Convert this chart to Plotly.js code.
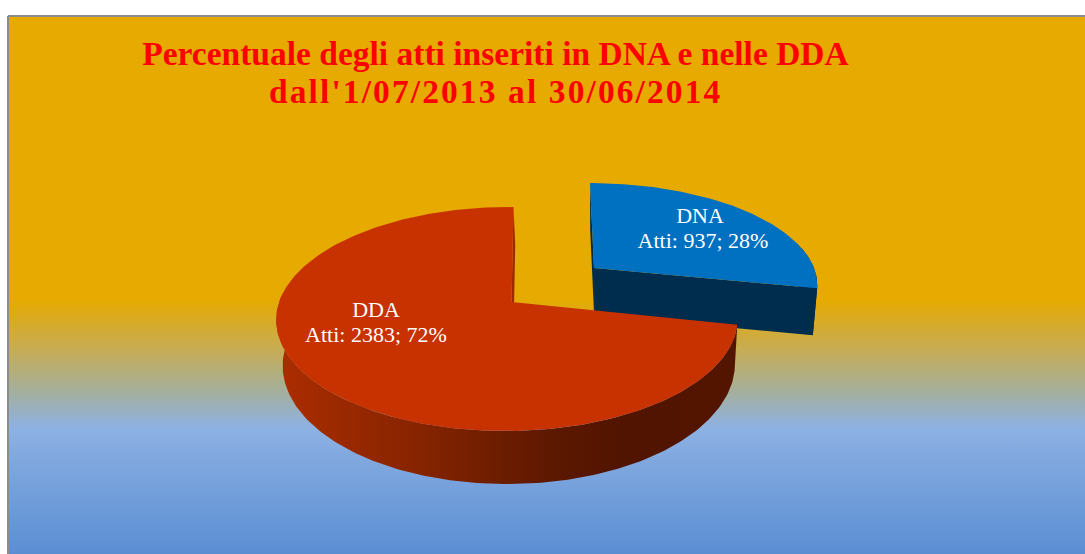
<!DOCTYPE html>
<html><head><meta charset="utf-8">
<script src="https://cdn.plot.ly/plotly-3.0.1.min.js"></script>
<style>html,body{margin:0;padding:0;background:#fff;overflow:hidden}#c{width:1085px;height:554px}</style>
</head><body><div id="c"></div>
<script>
// data
const categories = ['DNA', 'DDA'];
const measureName = 'Atti';
const values = [937, 2383];
const percents = [28, 72];
const titleLines = ['Percentuale degli atti inseriti in DNA e nelle DDA', "dall'1/07/2013 al 30/06/2014"];

// styles
const topColors = ['#0070C0', '#C83100'];
const sideDark = ['#002C4E', '#A02800'];
const frameColor = '#8C8C8C';
const bgStops = [[0,'#E6AA00'],[0.525,'#E6AA00'],[0.62,'#C6AC55'],[0.70,'#A3AF9F'],[0.765,'#8DB1E3'],[1,'#5A8ED3']];
const wallStops = [[0,'#AC2D00'],[0.3,'#872400'],[0.6,'#5C1800'],[0.75,'#511400'],[1,'#531500']];

// projection of the tilted pie: one set per slice
const proj = [
  {vx:594, vy:268, a:220, s:-4.6, b:97.7, t:0, k:0.15, m:0.0, d0:47, e:0},
  {vx:511.5, vy:302, a:228, s:2.3, b:109.4, t:0.5, k:0.152, m:0.018, d0:46, e:0.067}
];
const labelX = [[700,703],[376,376]];
const labelY = [[217,242],[311,336]];
const total = values.reduce((p,c)=>p+c,0);
function pt(p, deg){
  const r = deg*Math.PI/180, u = Math.sin(r), v = Math.cos(r), w = 1+p.k*v+p.m*u;
  return [p.vx+(p.a*u+p.s*v)/w, p.vy+(p.t*u-p.b*v)/w];
}
function down(q,p){ // extrusion of a top-face point to the pie's lower rim
  return [q[0]-(q[0]-600)*0.02, q[1]+p.d0+(q[1]-326)*p.e];
}
function arc(p,a0,a1){const o=[];const n=Math.ceil(Math.abs(a1-a0));for(let i=0;i<=n;i++)o.push(pt(p,a0+(a1-a0)*i/n));return o;}
function poly(points,extra){
  const xs=points.map(q=>q[0]),ys=points.map(q=>q[1]);
  xs.push(xs[0]);ys.push(ys[0]);
  return Object.assign({type:'scatter',mode:'lines',x:xs,y:ys,fill:'toself',line:{width:0},hoverinfo:'skip',showlegend:false},extra);
}
const traces=[];
// background with frame
traces.push(poly([[8,16],[1095,16],[1095,564],[8,564]],{
  fillgradient:{type:'vertical',start:17,stop:554,colorscale:bgStops},
  line:{width:2,color:frameColor}
}));
let start=0;
const sweeps=values.map(v=>{const s=[start,start+v/total*360];start=s[1];return s;});
// DNA
{
  const p=proj[0],[a0,a1]=sweeps[0],V=[p.vx,p.vy],A=arc(p,a0,a1),E=A[A.length-1],d=q=>down(q,p);
  traces.push(poly([A[0],d(A[0]),d(V),V],{fillcolor:sideDark[0]}));
  traces.push(poly([V,E,d(E),d(V)],{fillcolor:sideDark[0]}));
  const rim=A.slice(A.length-25);
  traces.push(poly(rim.concat(rim.slice().reverse().map(d)),{fillcolor:sideDark[0]}));
  traces.push(poly([V].concat(A),{fillcolor:topColors[0]}));
}
// DDA
{
  const p=proj[1],[a0,a1]=sweeps[1],V=[p.vx,p.vy],d=q=>down(q,p);
  const A=arc(p,a0,a1),E=A[A.length-1];
  traces.push(poly([E,d(E),d(V),V],{fillcolor:sideDark[1]}));
  const rim=arc(p,a0,275);
  traces.push(poly(rim.concat(rim.slice().reverse().map(d)),{
    fillgradient:{type:'horizontal',start:276,stop:740,colorscale:wallStops}
  }));
  traces.push(poly([V].concat(A),{fillcolor:topColors[1]}));
}
// labels
categories.forEach((c,i)=>{
  traces.push({type:'scatter',mode:'text',x:labelX[i],y:labelY[i],
    text:[c, measureName+': '+values[i]+'; '+percents[i]+'%'],
    textposition:'middle center',textfont:{family:'"Liberation Serif",serif',size:22,color:'#FFFFFF'},
    hoverinfo:'skip',showlegend:false});
});
const titleFont={family:'"Liberation Serif",serif',size:33.5,color:'#FF0000',weight:700};
const layout={
  width:1085,height:554,margin:{l:0,r:0,t:0,b:0},paper_bgcolor:'#FFFFFF',plot_bgcolor:'rgba(0,0,0,0)',
  showlegend:false,
  xaxis:{range:[0,1085],visible:false,fixedrange:true},
  yaxis:{range:[554,0],visible:false,fixedrange:true},
  title:{text:titleLines[0],x:495.5/1085,xanchor:'center',y:1-53/554,yanchor:'middle',yref:'container',font:titleFont},
  annotations:[{text:'<span style="letter-spacing:2.1px">'+titleLines[1]+'</span>',x:495.5,y:91,xref:'x',yref:'y',xanchor:'center',yanchor:'middle',showarrow:false,font:titleFont}]
};
Plotly.newPlot('c',traces,layout,{displayModeBar:false,staticPlot:true});
</script></body></html>
